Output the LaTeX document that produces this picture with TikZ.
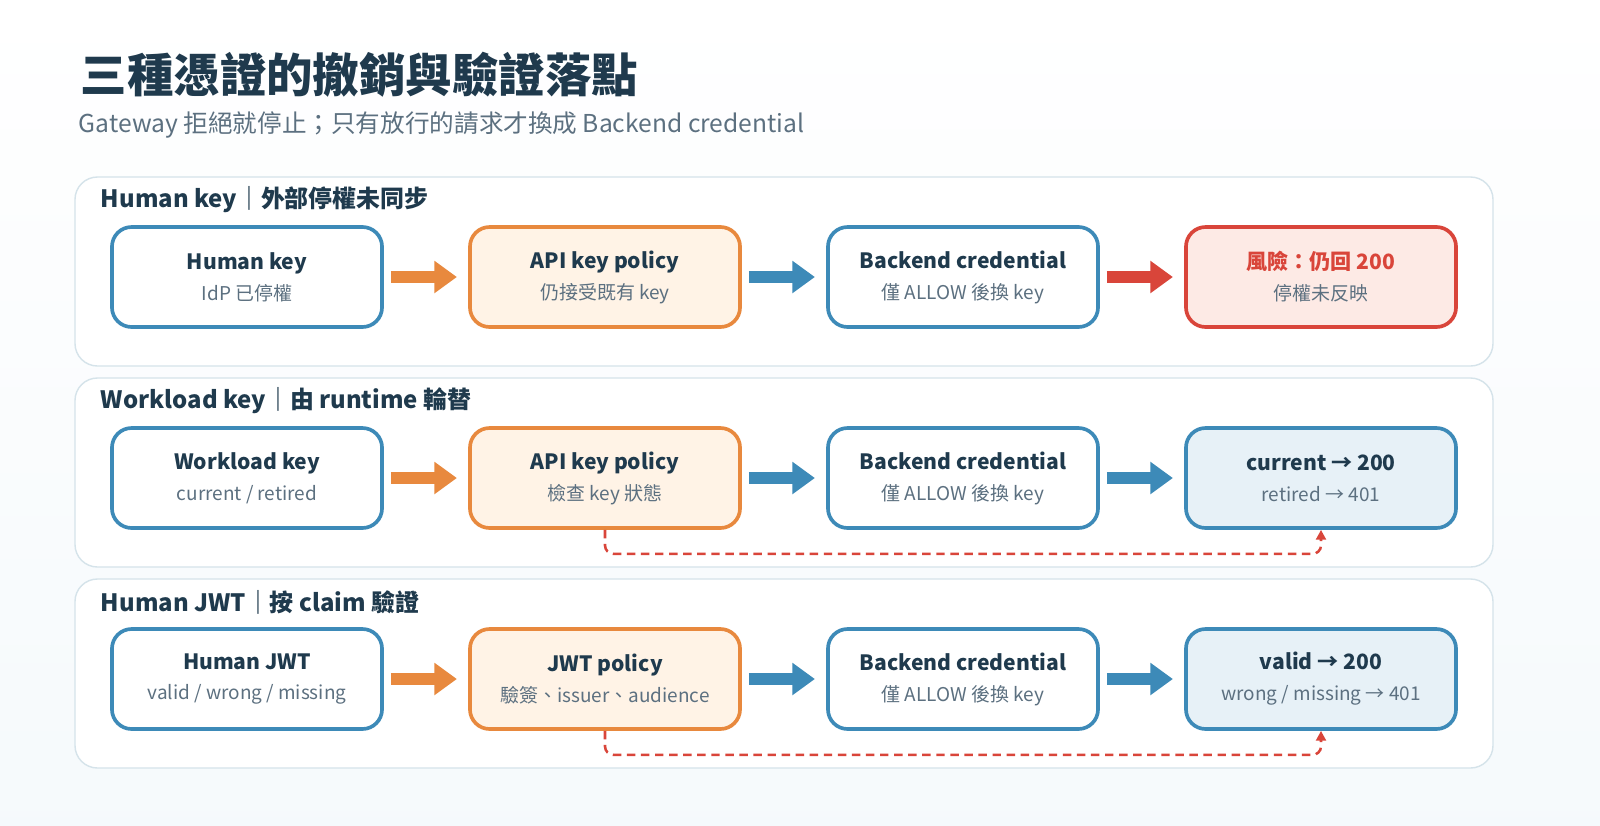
\documentclass[tikz,border=0pt]{standalone}
\usepackage{fontspec}
\setmainfont{Noto Sans CJK TC}
\usetikzlibrary{arrows.meta, positioning, calc}
\definecolor{ink}{HTML}{1F3A4D}
\definecolor{muted}{HTML}{5C7080}
\definecolor{edgeblue}{HTML}{3D8AB8}
\definecolor{edgeorange}{HTML}{E8893E}
\definecolor{edgered}{HTML}{D9453A}
\definecolor{fillorange}{HTML}{FFF3E6}
\definecolor{fillred}{HTML}{FDEAE5}
\definecolor{fillblue}{HTML}{E7F1F7}
\definecolor{panelline}{HTML}{D5E3EA}
\tikzset{
	box/.style={rectangle, draw=edgeblue, fill=white, line width=2.6pt, rounded corners=14pt,
		minimum width=6.75cm, minimum height=2.5cm, align=center, text=ink, font=\fontsize{15}{24}\selectfont},
	policy/.style={box, draw=edgeorange, fill=fillorange},
	risk/.style={box, draw=edgered, fill=fillred, text=edgered},
	result/.style={box, fill=fillblue},
	panel/.style={draw=panelline, fill=white, line width=1pt, rounded corners=16pt},
	heading/.style={anchor=west, text=ink, font=\fontsize{17}{20}\selectfont\bfseries},
	flow/.style={line width=9pt, -{Triangle[length=16pt, width=22pt]}, shorten <=5pt, shorten >=8pt},
	loopback/.style={edgered, line width=1.8pt, dash pattern=on 6pt off 4pt, rounded corners=6pt, -{Triangle[length=7pt, width=7pt]}}
}
\newcommand{\sub}[1]{\\[-2pt]{\color{muted}\fontsize{13.5}{16}\selectfont #1}}
\begin{document}
\begin{tikzpicture}[x=0.025cm, y=-0.025cm]
	% background and frame
	\fill[top color=white, bottom color=fillblue!40] (0,0) rectangle (1600,825);
	\useasboundingbox (0,0) rectangle (1600,825);
	\node[anchor=west, text=ink, font=\fontsize{33}{38}\selectfont\bfseries] (title) at (76,75) {三種憑證的撤銷與驗證落點};
	\node[anchor=west, text=muted, font=\fontsize{17.5}{20}\selectfont] (subtitle) at (74,125) {Gateway 拒絕就停止；只有放行的請求才換成 Backend credential};
	
	% panels
	\draw[panel] (75,177) rectangle (1493,366);
	\draw[panel] (75,378) rectangle (1493,567);
	\draw[panel] (75,579) rectangle (1493,768);
	\node[heading] (h1) at (96,200) {Human key｜外部停權未同步};
	\node[heading] (h2) at (96,401) {Workload key｜由 runtime 輪替};
	\node[heading] (h3) at (96,602) {Human JWT｜按 claim 驗證};
	
	% row 1
	\node[box] (hk) at (247,277) {\textbf{Human key}\sub{IdP 已停權}};
	\node[policy] (hkp) at (605,277) {\textbf{API key policy}\sub{仍接受既有 key}};
	\node[box] (hkb) at (963,277) {\textbf{Backend credential}\sub{僅 ALLOW 後換 key}};
	\node[risk] (hkr) at (1321,277) {\textbf{風險：仍回 200}\sub{停權未反映}};
	\draw[flow, edgeorange] (hk) -- (hkp);
	\draw[flow, edgeblue] (hkp) -- (hkb);
	\draw[flow, edgered] (hkb) -- (hkr);
	
	% row 2
	\node[box] (wk) at (247,478) {\textbf{Workload key}\sub{current / retired}};
	\node[policy] (wkp) at (605,478) {\textbf{API key policy}\sub{檢查 key 狀態}};
	\node[box] (wkb) at (963,478) {\textbf{Backend credential}\sub{僅 ALLOW 後換 key}};
	\node[result] (wkr) at (1321,478) {\textbf{current → 200}\sub{retired → 401}};
	\draw[flow, edgeorange] (wk) -- (wkp);
	\draw[flow, edgeblue] (wkp) -- (wkb);
	\draw[flow, edgeblue] (wkb) -- (wkr);
	\draw[loopback] (wkp.south) -- ++(0,24) -| (wkr.south);
	
	% row 3
	\node[box] (jw) at (247,679) {\textbf{Human JWT}\sub{valid / wrong / missing}};
	\node[policy] (jwp) at (605,679) {\textbf{JWT policy}\sub{驗簽、issuer、audience}};
	\node[box] (jwb) at (963,679) {\textbf{Backend credential}\sub{僅 ALLOW 後換 key}};
	\node[result] (jwr) at (1321,679) {\textbf{valid → 200}\sub{wrong / missing → 401}};
	\draw[flow, edgeorange] (jw) -- (jwp);
	\draw[flow, edgeblue] (jwp) -- (jwb);
	\draw[flow, edgeblue] (jwb) -- (jwr);
	\draw[loopback] (jwp.south) -- ++(0,24) -| (jwr.south);
\end{tikzpicture}
\end{document}
